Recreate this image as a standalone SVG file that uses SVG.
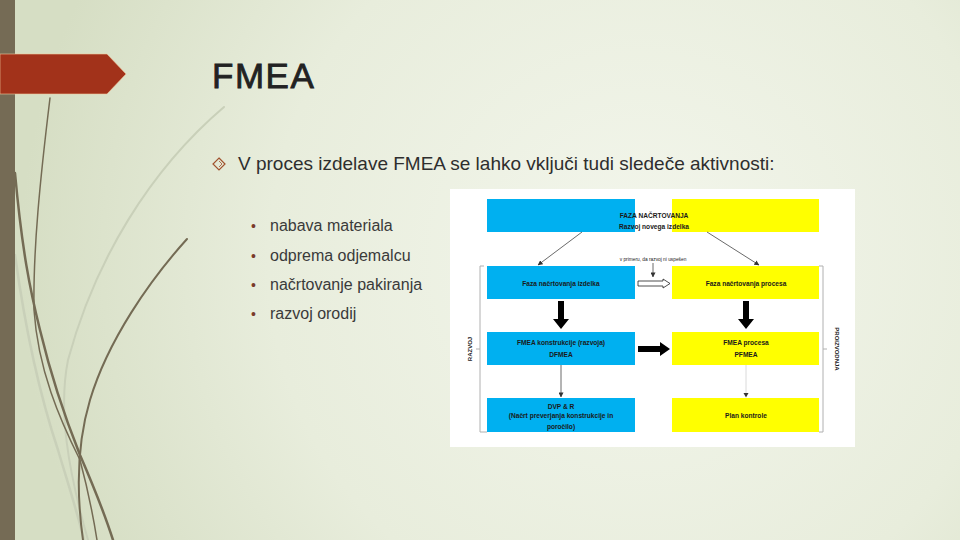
<svg xmlns="http://www.w3.org/2000/svg" width="960" height="540" viewBox="0 0 960 540">
<defs>
<radialGradient id="bg" cx="640" cy="260" r="620" gradientUnits="userSpaceOnUse">
<stop offset="0" stop-color="#F3F6EC"/>
<stop offset="0.6" stop-color="#E8EDDC"/>
<stop offset="1" stop-color="#D6DEC4"/>
</radialGradient>
<marker id="ah" viewBox="0 0 6 6" refX="5.5" refY="3" markerWidth="5" markerHeight="5" orient="auto" markerUnits="userSpaceOnUse">
<path d="M0,0 L6,3 L0,6 Z" fill="#333"/>
</marker>
<style>
.deco{fill:none;stroke:#746B54;stroke-linecap:round}
.decol{fill:none;stroke:#C9D0B9;stroke-linecap:round}
.t{font-family:"Liberation Sans",Arial,sans-serif}
.bl{fill:#3A3A3A;font-size:16px}
.bul{fill:#7A3A2A;font-size:14px}
.box{stroke:none}
.blue{fill:#00B0F0}
.yel{fill:#FFFF00}
.bt{font-family:"Liberation Sans",Arial,sans-serif;font-size:6.6px;font-weight:bold;fill:#1a1a1a;text-anchor:middle}
.br{stroke:#B0B0B0;stroke-width:1;fill:none}
.thin{stroke:#444;stroke-width:0.8;fill:none}
</style>
</defs>
<rect width="960" height="540" fill="url(#bg)"/>
<!-- decorative curves -->
<path class="decol" stroke-width="2" d="M224,107 C150,170 95,260 68,360 C58,410 68,470 88,540"/>
<path class="decol" stroke-width="2.5" d="M15,255 C24,320 38,390 58,450 C70,490 78,515 84,540"/>
<path class="deco" stroke-width="1.5" d="M50,98 C40,180 33,250 34,310 C38,370 60,420 80,460 C88,490 93,515 97,540"/>
<path class="deco" stroke-width="2.5" d="M15,173 C22,250 30,290 40,330 C52,380 66,420 80,455 C93,485 105,515 113,540"/>
<path class="deco" stroke-width="2" d="M187,239 C150,280 108,340 90,400 C78,440 76,490 83,540"/>
<rect x="0" y="0" width="15" height="540" fill="#756B55"/>
<polygon points="0,54 107,54 126,74 107,94 0,94" fill="#A2321A" stroke="#F2C9A0" stroke-width="0.6"/>
<text class="t" x="212" y="88" font-size="35" letter-spacing="1.5" fill="#222" stroke="#222" stroke-width="0.8">FMEA</text>
<g id="mainbullet">
<path d="M219,158 L225,164 L219,170 L213,164 Z" fill="none" stroke="#A0522D" stroke-width="1.2"/>
<path d="M219,161 L222,164 L219,167" fill="none" stroke="#A0522D" stroke-width="0.8"/>
<text class="t" x="238" y="170" font-size="19" fill="#2E2E2E">V proces izdelave FMEA se lahko vključi tudi sledeče aktivnosti:</text>
</g>
<g id="list" class="t">
<text class="bul" x="251" y="231">•</text><text class="bl" x="270" y="231">nabava materiala</text>
<text class="bul" x="251" y="261">•</text><text class="bl" x="270" y="261">odprema odjemalcu</text>
<text class="bul" x="251" y="290">•</text><text class="bl" x="270" y="290">načrtovanje pakiranja</text>
<text class="bul" x="251" y="319">•</text><text class="bl" x="270" y="319">razvoj orodij</text>
</g>
<!-- embedded diagram -->
<rect x="450" y="189" width="405" height="258" fill="#FFFFFF"/>
<g id="bracket-razvoj">
<path class="br" d="M484,266 H480 V432 H487 M480,349 H476"/>
<text class="t" transform="translate(472,349) rotate(-90)" font-size="6" font-weight="bold" fill="#222" text-anchor="middle">RAZVOJ</text>
</g>
<g id="bracket-proizvodnja">
<path class="br" d="M819,266 H823 V432 H819 M823,349 H827"/>
<text class="t" transform="translate(835,349) rotate(90)" font-size="6" font-weight="bold" fill="#222" text-anchor="middle">PROIZVODNJA</text>
</g>
<g id="faza-nacrtovanja">
<rect class="box blue" x="487" y="199" width="148" height="33"/>
<rect class="box" x="635" y="199" width="37" height="33" fill="#FFFFFF"/>
<rect class="box yel" x="672" y="199" width="147" height="33"/>
<text class="bt" x="654" y="218">FAZA NAČRTOVANJA</text>
<text class="bt" x="654" y="229">Razvoj novega izdelka</text>
</g>
<g id="faza-izdelka">
<rect class="box blue" x="487" y="266" width="148" height="33"/>
<text class="bt" x="561" y="286">Faza načrtovanja izdelka</text>
</g>
<g id="faza-procesa">
<rect class="box yel" x="672" y="266" width="147" height="33"/>
<text class="bt" x="746" y="286">Faza načrtovanja procesa</text>
</g>
<g id="dfmea">
<rect class="box blue" x="487" y="332" width="148" height="33"/>
<text class="bt" x="561" y="345">FMEA konstrukcije (razvoja)</text>
<text class="bt" x="561" y="357">DFMEA</text>
</g>
<g id="pfmea">
<rect class="box yel" x="672" y="332" width="147" height="33"/>
<text class="bt" x="746" y="345">FMEA procesa</text>
<text class="bt" x="746" y="357">PFMEA</text>
</g>
<g id="dvpr">
<rect class="box blue" x="487" y="398" width="148" height="34"/>
<text class="bt" x="561" y="409">DVP &amp; R</text>
<text class="bt" x="561" y="418">(Načrt preverjanja konstrukcije in</text>
<text class="bt" x="561" y="429">poročilo)</text>
</g>
<g id="plan-kontrole">
<rect class="box yel" x="672" y="398" width="147" height="34"/>
<text class="bt" x="746" y="418">Plan kontrole</text>
</g>
<g id="connectors">
<line class="thin" x1="582" y1="232" x2="538" y2="265" marker-end="url(#ah)"/>
<line class="thin" x1="707" y1="232" x2="759" y2="265" marker-end="url(#ah)"/>
<text class="t" x="653" y="261" font-size="4.8" fill="#222" text-anchor="middle">v primeru, da razvoj ni uspešen</text>
<line class="thin" x1="653" y1="263" x2="653" y2="277" marker-end="url(#ah)"/>
<polygon points="638,281 663,281 663,279 670,283.5 663,288 663,286 638,286" fill="#FFFFFF" stroke="#222" stroke-width="0.8"/>
<polygon points="558,301 564,301 564,319 569,319 561,329 553,319 558,319" fill="#000"/>
<polygon points="743,301 749,301 749,319 754,319 746,329 738,319 743,319" fill="#000"/>
<polygon points="638,346 660,346 660,342 670,349 660,356 660,352 638,352" fill="#000"/>
<line class="thin" x1="561" y1="365" x2="561" y2="397" marker-end="url(#ah)"/>
<line x1="746" y1="365" x2="746" y2="393" stroke="#D0D0D0" stroke-width="0.8"/>
<path d="M743.5,393 L748.5,393 L746,397.5 Z" fill="#333"/>
</g>
</svg>
